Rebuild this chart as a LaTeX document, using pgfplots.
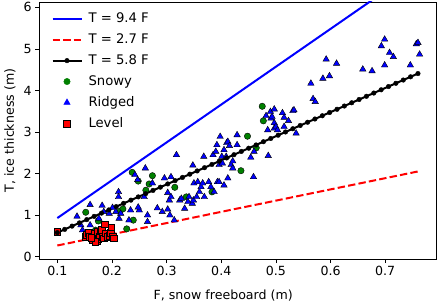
\documentclass[border=0pt]{standalone}
\usepackage{fontspec}
\setmainfont{DejaVu Sans}
\usepackage{pgfplots}
\pgfplotsset{compat=1.18}
\definecolor{mblue}{RGB}{0,0,255}
\definecolor{mred}{RGB}{255,0,0}
\definecolor{mgreen}{RGB}{0,128,0}
\begin{document}
\begin{tikzpicture}
\begin{axis}[
  at={(0pt,0pt)}, anchor=south west,
  scale only axis, width=396.7pt, height=257pt,
  xmin=0.067, xmax=0.793, ymin=-0.055, ymax=6.13,
  xtick={0.1,0.2,0.3,0.4,0.5,0.6,0.7},
  xticklabels={0.1,0.2,0.3,0.4,0.5,0.6,0.7},
  ytick={0,1,2,3,4,5,6},
  tick pos=left, tick align=outside,
  major tick length=4pt,
  every tick/.style={black, line width=0.8pt},
  axis line style={line width=0.8pt},
  /pgf/number format/assume math mode=true,
  font=\fontsize{12.6}{15}\selectfont,
  xlabel={F, snow freeboard (m)},
  ylabel={T, ice thickness (m)},
  every axis x label/.style={at={(axis description cs:0.4635,-0.143)}, anchor=center},
  every axis y label/.style={at={(axis description cs:-0.074,0.5)}, anchor=center, rotate=90},
  legend image code/.code={\draw[mark repeat=2,mark phase=2,#1] plot coordinates {(0pt,0pt) (14.5pt,0pt) (29pt,0pt)};},
  legend style={at={(axis description cs:0,1)}, anchor=north west, xshift=9pt, yshift=-7pt,
    draw=none, fill=none, font=\fontsize{13.2}{15}\selectfont, row sep=5.6pt, column sep=4pt,
    nodes={anchor=west}},
  legend cell align=left,
]
% legend entries
\addlegendimage{mblue, line width=2pt}
\addlegendentry{T = 9.4 F}
\addlegendimage{mred, line width=2pt, dash pattern=on 7.4pt off 3.2pt}
\addlegendentry{T = 2.7 F}
\addlegendimage{black, line width=2pt, mark=*, mark size=2.3pt, mark options={line width=0.4pt}}
\addlegendentry{T = 5.8 F}
\addlegendimage{only marks, mark=*, mark size=3.2pt, mgreen, draw=none, fill=mgreen}
\addlegendentry{Snowy}
\addlegendimage{only marks, mark=triangle*, mark size=3.7pt, mblue, draw=none, fill=mblue}
\addlegendentry{Ridged}
\addlegendimage{only marks, mark=square*, mark size=3.3pt, draw=black, fill=mred, line width=0.8pt}
\addlegendentry{Level}

% Snowy
\addplot[forget plot, only marks, mark=*, mark size=3.2pt, draw=none, mark options={draw=none, fill=mgreen}] coordinates {
(0.152,1.07) (0.175,0.86) (0.170,0.64) (0.215,1.10) (0.220,1.15) (0.227,0.67)
(0.239,0.88) (0.237,2.03) (0.248,1.82) (0.262,1.60) (0.268,1.75) (0.274,1.95)
(0.315,1.67) (0.336,1.44) (0.383,1.56) (0.436,2.07) (0.448,2.90) (0.464,2.62)
(0.475,3.62) (0.477,3.27)
};
% Ridged
\addplot[forget plot, only marks, mark=triangle*, mark size=3.7pt, draw=none, mark options={draw=none, fill=mblue}] coordinates {
(0.136,0.97) (0.143,0.76) (0.146,0.64) (0.160,1.25) (0.160,0.76) (0.176,0.92)
(0.182,1.23) (0.185,1.08) (0.195,1.04) (0.201,1.18) (0.207,1.08) (0.212,1.56)
(0.212,1.44) (0.216,1.04) (0.213,0.92) (0.231,0.88) (0.234,1.12) (0.250,1.12)
(0.242,1.97) (0.247,1.85) (0.261,2.13) (0.259,1.44) (0.265,0.84) (0.265,1.00)
(0.248,1.19) (0.274,1.77) (0.283,1.17) (0.292,1.08) (0.296,1.89) (0.302,1.14)
(0.302,1.54) (0.305,1.36) (0.306,1.00) (0.308,1.44) (0.308,1.92) (0.314,0.88)
(0.318,2.45) (0.324,1.36) (0.327,1.40) (0.333,1.16) (0.339,1.32) (0.341,1.44)
(0.347,1.28) (0.348,2.20) (0.349,1.36) (0.350,1.77) (0.355,1.44) (0.357,1.80)
(0.360,1.56) (0.363,1.68) (0.366,1.77) (0.369,1.44) (0.368,2.41) (0.377,1.80)
(0.381,1.68) (0.385,2.45) (0.387,1.56) (0.393,1.80) (0.396,2.21) (0.396,1.80)
(0.398,2.89) (0.392,2.69) (0.390,2.53) (0.401,2.41) (0.402,2.25) (0.405,1.72)
(0.405,2.57) (0.409,2.41) (0.410,2.74) (0.412,2.77) (0.412,1.89) (0.415,2.67)
(0.418,2.21) (0.421,2.30) (0.421,2.13) (0.429,2.93) (0.429,2.69) (0.454,2.39)
(0.459,1.92) (0.460,2.53) (0.486,2.43) (0.482,3.39) (0.485,3.05) (0.490,3.49)
(0.491,3.33) (0.493,3.37) (0.497,3.55) (0.497,3.22) (0.497,3.09) (0.500,3.13)
(0.503,3.05) (0.512,3.46) (0.515,3.35) (0.515,3.13) (0.523,3.27) (0.531,3.51)
(0.533,3.53) (0.537,2.97) (0.564,4.17) (0.568,3.80) (0.572,3.73) (0.586,4.29)
(0.592,4.75) (0.598,4.35) (0.611,4.65) (0.659,4.51) (0.676,4.47) (0.693,5.07)
(0.699,5.23) (0.708,4.91) (0.715,4.81) (0.699,4.61) (0.746,4.61) (0.757,5.12)
(0.760,5.15) (0.763,4.87)
};
% Level
\addplot[forget plot, only marks, mark=square*, mark size=3.3pt, mark options={draw=black, fill=mred, line width=0.8pt}] coordinates {
(0.100,0.60) (0.152,0.47) (0.153,0.52) (0.158,0.57) (0.160,0.47) (0.164,0.40)
(0.167,0.49) (0.169,0.55) (0.172,0.38) (0.173,0.60) (0.175,0.43) (0.178,0.48)
(0.179,0.61) (0.182,0.64) (0.183,0.47) (0.185,0.44) (0.187,0.78) (0.189,0.56)
(0.193,0.47) (0.195,0.50) (0.198,0.58) (0.199,0.71) (0.202,0.47) (0.204,0.44)
(0.170,0.36) (0.162,0.45)
};
% Lines
\addplot[forget plot, mblue, line width=2pt] coordinates {(0.1,0.93) (0.76,6.94)};
\addplot[forget plot, mred, line width=2pt, dash pattern=on 7.4pt off 3.2pt] coordinates {(0.1,0.27) (0.76,2.052)};
\addplot[forget plot, black, line width=2pt, mark=*, mark size=2.3pt, mark options={line width=0.4pt}] coordinates {
(0.1,0.58) (0.11347,0.65812) (0.12694,0.73624) (0.14041,0.81437) (0.15388,0.89249)
(0.16735,0.97061) (0.18082,1.04873) (0.19429,1.12686) (0.20776,1.20498) (0.22122,1.28310)
(0.23469,1.36122) (0.24816,1.43935) (0.26163,1.51747) (0.27510,1.59559) (0.28857,1.67371)
(0.30204,1.75184) (0.31551,1.82996) (0.32898,1.90808) (0.34245,1.98620) (0.35592,2.06433)
(0.36939,2.14245) (0.38286,2.22057) (0.39633,2.29869) (0.40980,2.37682) (0.42327,2.45494)
(0.43673,2.53306) (0.45020,2.61118) (0.46367,2.68931) (0.47714,2.76743) (0.49061,2.84555)
(0.50408,2.92367) (0.51755,3.00180) (0.53102,3.07992) (0.54449,3.15804) (0.55796,3.23616)
(0.57143,3.31429) (0.58490,3.39241) (0.59837,3.47053) (0.61184,3.54865) (0.62531,3.62678)
(0.63878,3.70490) (0.65224,3.78302) (0.66571,3.86114) (0.67918,3.93927) (0.69265,4.01739)
(0.70612,4.09551) (0.71959,4.17363) (0.73306,4.25176) (0.74653,4.32988) (0.76,4.408)
};
\end{axis}
\pgfresetboundingbox
\useasboundingbox (-39.3pt,-44pt) rectangle (398.7pt,259pt);
\end{tikzpicture}
\end{document}
